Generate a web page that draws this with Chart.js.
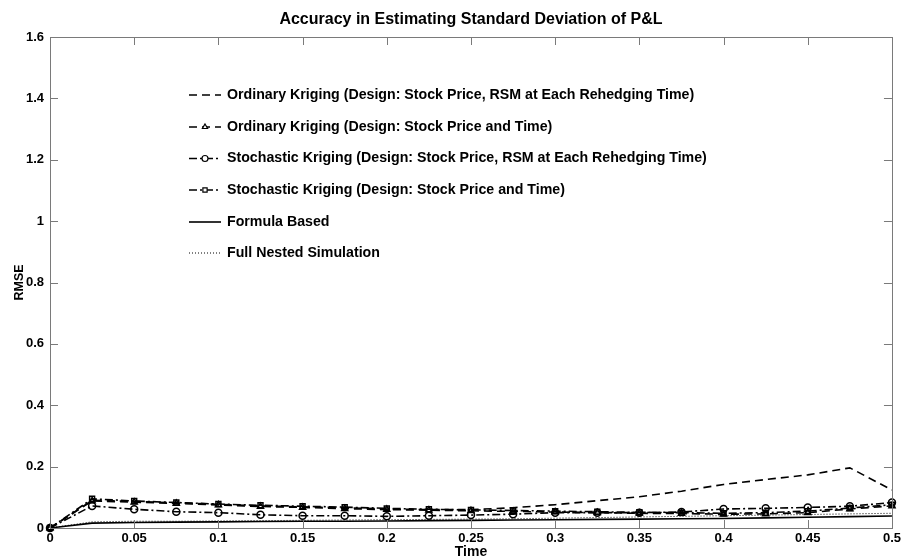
<!DOCTYPE html>
<html>
<head>
<meta charset="utf-8">
<script src="https://cdn.jsdelivr.net/npm/chart.js@4.4.1/dist/chart.umd.min.js"></script>
<style>
  html, body { margin: 0; padding: 0; background: #fff; }
  #wrap { width: 904px; height: 560px; }
</style>
</head>
<body>
<div id="wrap"><canvas id="c" width="904" height="560"></canvas></div>
<script>
// Rehedging times (years)
const times = [0, 0.025, 0.05, 0.075, 0.1, 0.125, 0.15, 0.175, 0.2, 0.225, 0.25,
               0.275, 0.3, 0.325, 0.35, 0.375, 0.4, 0.425, 0.45, 0.475, 0.5];

// RMSE of each method
const okRsm = [0, 0.090, 0.087, 0.082, 0.077, 0.072, 0.069, 0.066, 0.062, 0.060, 0.060,
               0.066, 0.076, 0.089, 0.102, 0.120, 0.142, 0.158, 0.173, 0.196, 0.124];
const okTime = [0, 0.088, 0.084, 0.080, 0.075, 0.070, 0.067, 0.063, 0.060, 0.058, 0.056,
                0.054, 0.052, 0.050, 0.048, 0.047, 0.045, 0.046, 0.050, 0.062, 0.072];
const skRsm = [0, 0.072, 0.061, 0.053, 0.050, 0.043, 0.040, 0.040, 0.038, 0.040, 0.042,
               0.045, 0.050, 0.050, 0.050, 0.052, 0.062, 0.064, 0.067, 0.071, 0.083];
const skTime = [0, 0.095, 0.088, 0.083, 0.078, 0.074, 0.071, 0.068, 0.064, 0.061, 0.059,
                0.057, 0.055, 0.053, 0.051, 0.050, 0.048, 0.050, 0.055, 0.065, 0.076];
const formula = [0, 0.016, 0.018, 0.019, 0.020, 0.021, 0.022, 0.022, 0.023, 0.024, 0.025,
                 0.026, 0.027, 0.028, 0.029, 0.030, 0.031, 0.033, 0.035, 0.037, 0.039];
const fullNested = [0, 0.020, 0.022, 0.022, 0.023, 0.024, 0.025, 0.026, 0.027, 0.028, 0.029,
                    0.030, 0.032, 0.034, 0.036, 0.038, 0.040, 0.042, 0.044, 0.046, 0.048];

const seriesLabels = [
  'Ordinary Kriging (Design: Stock Price, RSM at Each Rehedging Time)',
  'Ordinary Kriging (Design: Stock Price and Time)',
  'Stochastic Kriging (Design: Stock Price, RSM at Each Rehedging Time)',
  'Stochastic Kriging (Design: Stock Price and Time)',
  'Formula Based',
  'Full Nested Simulation'
];

// Axis ticks
const xTicks = [0, 0.05, 0.1, 0.15, 0.2, 0.25, 0.3, 0.35, 0.4, 0.45, 0.5];
const yTicks = [0, 0.2, 0.4, 0.6, 0.8, 1, 1.2, 1.4, 1.6];

const FONT = 'Arial, "Liberation Sans", sans-serif';
const AXIS_GREY = '#7a7a7a';

const pts = ys => times.map((t, i) => ({ x: t, y: ys[i] }));

function series(label, ys, dash, marker) {
  return {
    label: label,
    data: pts(ys),
    borderColor: '#000',
    backgroundColor: 'rgba(0,0,0,0)',
    borderWidth: 1.6,
    borderDash: dash,
    pointStyle: marker || 'circle',
    pointRadius: marker ? 3.5 : 0,
    pointBorderColor: '#000',
    pointBackgroundColor: 'rgba(0,0,0,0)',
    pointBorderWidth: 1.5,
    tension: 0,
    clip: 8
  };
}

const datasets = [
  series(seriesLabels[0], okRsm, [8, 5], null),
  series(seriesLabels[1], okTime, [8, 5], 'triangle'),
  series(seriesLabels[2], skRsm, [8, 3, 2, 3], 'circle'),
  series(seriesLabels[3], skTime, [8, 3, 2, 3], 'rect'),
  series(seriesLabels[4], formula, [], null),
  series(seriesLabels[5], fullNested, [1, 2], null)
];
datasets[5].borderWidth = 1;

// Box around the plot, inward ticks on all four sides, axis titles
const framePlugin = {
  id: 'frame',
  afterDraw(chart) {
    const ctx = chart.ctx;
    const a = chart.chartArea;
    const xs = chart.scales.x, ys = chart.scales.y;
    ctx.save();
    ctx.strokeStyle = AXIS_GREY;
    ctx.lineWidth = 1;
    ctx.setLineDash([]);
    ctx.strokeRect(Math.round(a.left) + 0.5, Math.round(a.top) + 0.5,
                   Math.round(a.right - a.left), Math.round(a.bottom - a.top));
    const len = 8;
    ctx.beginPath();
    xTicks.forEach(v => {
      const p = Math.round(xs.getPixelForValue(v)) + 0.5;
      ctx.moveTo(p, a.bottom); ctx.lineTo(p, a.bottom - len);
      ctx.moveTo(p, a.top); ctx.lineTo(p, a.top + len);
    });
    yTicks.forEach(v => {
      const p = Math.round(ys.getPixelForValue(v)) + 0.5;
      ctx.moveTo(a.left, p); ctx.lineTo(a.left + len, p);
      ctx.moveTo(a.right, p); ctx.lineTo(a.right - len, p);
    });
    ctx.stroke();

    ctx.fillStyle = '#000';
    ctx.textAlign = 'center';
    ctx.textBaseline = 'middle';
    ctx.font = 'bold 14px ' + FONT;
    ctx.fillText('Time', (a.left + a.right) / 2, 552);
    ctx.font = 'bold 12.5px ' + FONT;
    ctx.translate(20, (a.top + a.bottom) / 2);
    ctx.rotate(-Math.PI / 2);
    ctx.fillText('RMSE', 0, 0);
    ctx.restore();
  }
};

// Legend drawn inside the plot area, one row per series
const insideLegend = {
  id: 'insideLegend',
  afterDraw(chart) {
    const ctx = chart.ctx;
    const x0 = 189, x1 = 221, textX = 227;
    const rowY = [95, 127, 158.5, 190, 222, 253];
    ctx.save();
    chart.data.datasets.forEach((ds, i) => {
      const y = rowY[i];
      ctx.strokeStyle = ds.borderColor;
      ctx.lineWidth = ds.borderWidth;
      ctx.setLineDash(ds.borderDash);
      ctx.beginPath();
      ctx.moveTo(x0, y); ctx.lineTo(x1, y);
      ctx.stroke();
      ctx.setLineDash([]);
      if (ds.pointRadius > 0) {
        ctx.lineWidth = 1.2;
        ctx.fillStyle = '#fff';
        Chart.helpers.drawPoint(ctx, {
          pointStyle: ds.pointStyle, radius: 3, rotation: 0, borderWidth: 1.2
        }, (x0 + x1) / 2, y);
      }
      ctx.fillStyle = '#000';
      ctx.font = 'bold 14.2px ' + FONT;
      ctx.textAlign = 'left';
      ctx.textBaseline = 'middle';
      ctx.fillText(ds.label, textX, y);
    });
    ctx.restore();
  }
};

new Chart(document.getElementById('c'), {
  type: 'line',
  data: { datasets: datasets },
  plugins: [framePlugin, insideLegend],
  options: {
    responsive: false,
    animation: false,
    devicePixelRatio: 1,
    layout: { padding: { left: 0, right: 10, top: 0, bottom: 0 } },
    plugins: {
      legend: { display: false },
      tooltip: { enabled: false },
      title: {
        display: true,
        fullSize: false,
        text: 'Accuracy in Estimating Standard Deviation of P&L',
        color: '#000',
        font: { family: FONT, size: 16, weight: 'bold', lineHeight: 1.2 },
        padding: { top: 10.4, bottom: 7.4 }
      }
    },
    scales: {
      x: {
        type: 'linear',
        min: 0, max: 0.5,
        afterBuildTicks: s => { s.ticks = xTicks.map(v => ({ value: v })); },
        afterFit: s => { s.height = 32; },
        grid: { display: false, drawTicks: false },
        border: { display: false },
        ticks: {
          color: '#000',
          padding: 3,
          maxRotation: 0,
          autoSkip: false,
          font: { family: FONT, size: 13, weight: 'bold' },
          callback: v => String(v)
        }
      },
      y: {
        type: 'linear',
        min: 0, max: 1.6,
        afterBuildTicks: s => { s.ticks = yTicks.map(v => ({ value: v })); },
        afterFit: s => { s.width = 50; },
        grid: { display: false, drawTicks: false },
        border: { display: false },
        ticks: {
          color: '#000',
          padding: 6,
          autoSkip: false,
          font: { family: FONT, size: 13, weight: 'bold' },
          callback: v => String(v)
        }
      }
    }
  }
});
</script>
</body>
</html>
